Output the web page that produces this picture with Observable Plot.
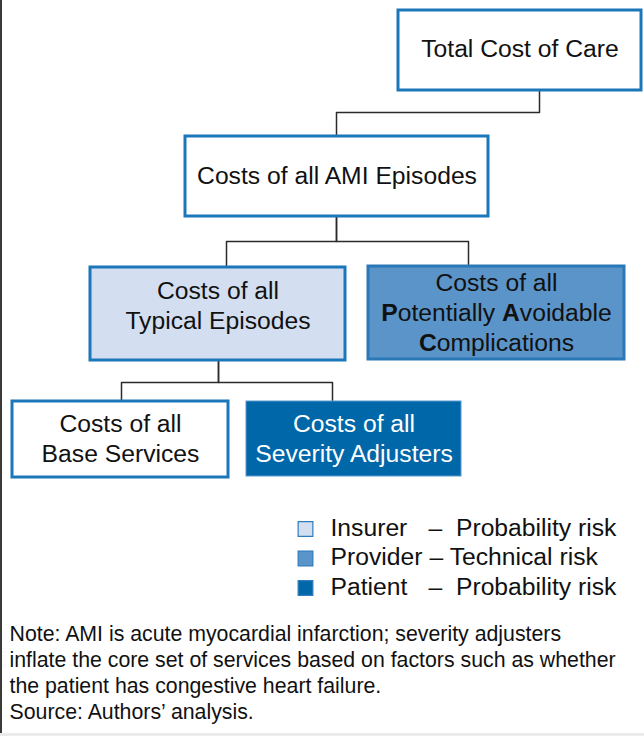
<!DOCTYPE html>
<html><head><meta charset="utf-8">
<script src="https://cdn.jsdelivr.net/npm/d3@7"></script>
<script src="https://cdn.jsdelivr.net/npm/@observablehq/plot@0.6"></script>
<style>
html,body{margin:0;padding:0;background:#ebebeb;}
#wrap{position:relative;width:644px;height:733px;background:#fff;overflow:hidden;}
#wrap::before{content:"";position:absolute;left:0;top:0;width:1.5px;height:733px;background:#3a3a3a;z-index:2;}
#wrap svg text{white-space:pre;}
</style></head><body><div id="wrap"></div>
<script>
// ---- data ----
const nodeIds = ["total", "ami", "typical", "pac", "base", "severity"];
const nodeLabels = [
  "Total Cost of Care",
  "Costs of all AMI Episodes",
  "Costs of all\nTypical Episodes",
  "Costs of all\n**P**otentially **A**voidable\n**C**omplications",
  "Costs of all\nBase Services",
  "Costs of all\nSeverity Adjusters"
];
const nodeParents = [null, "total", "ami", "ami", "typical", "typical"];
const nodeRoles = [null, null, "Insurer", "Provider", null, "Patient"];
const roles = ["Insurer", "Provider", "Patient"];
const roleRisks = ["Probability risk", "Technical risk", "Probability risk"];
const roleColors = ["#d3dff0", "#5b94c8", "#0067a9"];
const noteLines = [
  "Note: AMI is acute myocardial infarction; severity adjusters",
  "inflate the core set of services based on factors such as whether",
  "the patient has congestive heart failure.",
  "Source: Authors\u2019 analysis."
];

// ---- layout (diagram geometry, in chart units) ----
const boxLayout = {
  total:    {x1: 398, x2: 641, y1: 10,  y2: 90,  ty: 47,  inX: null, outX: 539},
  ami:      {x1: 185, x2: 488, y1: 136, y2: 216, ty: 174, inX: 336, outX: 336},
  typical:  {x1: 90,  x2: 345, y1: 267, y2: 360, ty: 304, inX: 226, outX: 218},
  pac:      {x1: 368, x2: 624, y1: 266, y2: 359, ty: 311, inX: 468, outX: null},
  base:     {x1: 12,  x2: 228, y1: 401, y2: 477, ty: 437, inX: 121, outX: null},
  severity: {x1: 246, x2: 461, y1: 401, y2: 476, ty: 437, inX: 332, outX: null}
};
const elbowY = {total: 112, ami: 241, typical: 382};
const legendLayout = {squareX: 305, roleX: 330, dashX: [428, 429, 428], gap: ["  ", " ", "  "], top: 528.5, step: 29.5};
const noteLayout = {x: 9, top: 634, step: 26};

const FONT = '"Liberation Sans", Arial, Helvetica, sans-serif';
const BORDER = "#1b77ba";
const INK = "#111";
const BOX_FONT = 24.7;

const boxes = nodeIds.map((id, i) => ({
  id, label: nodeLabels[i], parent: nodeParents[i], role: nodeRoles[i], ...boxLayout[id]
}));
const byId = new Map(boxes.map(b => [b.id, b]));
const links = [];
boxes.filter(b => b.parent).forEach(b => {
  const p = byId.get(b.parent);
  const ey = elbowY[p.id];
  [[p.outX, p.y2], [p.outX, ey], [b.inX, ey], [b.inX, b.y1]]
    .forEach(([x, y]) => links.push({child: b.id, x, y}));
});
const legend = roles.map((r, i) => ({
  role: r, risk: "\u2013" + legendLayout.gap[i] + roleRisks[i],
  y: legendLayout.top + i * legendLayout.step, dx: legendLayout.dashX[i]
}));
const notes = noteLines.map((t, i) => ({text: t, y: noteLayout.top + i * noteLayout.step}));
const cx = b => (b.x1 + b.x2) / 2;

const chart = Plot.plot({
  width: 644, height: 733, margin: 0,
  x: {domain: [0, 644], range: [0, 644], axis: null},
  y: {domain: [0, 733], range: [0, 733], axis: null},
  color: {domain: roles, range: roleColors},
  style: {fontFamily: FONT, background: "transparent", color: INK, overflow: "visible"},
  marks: [
    Plot.line(links, {x: "x", y: "y", z: "child", stroke: "#2b2b2b", strokeWidth: 1.5}),
    Plot.rect(boxes.filter(b => !b.role), {x1: "x1", x2: "x2", y1: "y1", y2: "y2", fill: "white", stroke: BORDER, strokeWidth: 3}),
    Plot.rect(boxes.filter(b => b.role), {x1: "x1", x2: "x2", y1: "y1", y2: "y2", fill: "role"}),
    Plot.rect(boxes.filter(b => b.role === "Insurer"), {x1: "x1", x2: "x2", y1: "y1", y2: "y2", fill: "none", stroke: BORDER, strokeWidth: 3}),
    Plot.rect(boxes.filter(b => b.role === "Provider"), {x1: "x1", x2: "x2", y1: "y1", y2: "y2", fill: "none", stroke: "#2a78b8", strokeWidth: 3}),
    Plot.rect(boxes.filter(b => b.role === "Patient"), {x1: "x1", x2: "x2", y1: "y1", y2: "y2", fill: "none", stroke: "#5a9ad0", strokeWidth: 1}),
    Plot.text(boxes.filter(b => b.role !== "Patient"), {x: cx, y: "ty", text: "label", fontSize: BOX_FONT, lineHeight: 1.22, fill: INK}),
    Plot.text(boxes.filter(b => b.role === "Patient"), {x: cx, y: "ty", text: "label", fontSize: BOX_FONT, lineHeight: 1.22, fill: "white"}),
    Plot.dot(legend, {x: legendLayout.squareX, y: "y", symbol: "square", r: 8.3, fill: "role", stroke: "#2e7cbd", strokeWidth: 1.2}),
    Plot.text(legend, {x: legendLayout.roleX, y: d => d.y - 1, text: "role", textAnchor: "start", fontSize: BOX_FONT, fill: INK}),
    Plot.text(legend, {x: "dx", y: d => d.y - 1, text: "risk", textAnchor: "start", fontSize: BOX_FONT, fill: INK}),
    Plot.text(notes, {x: noteLayout.x, y: "y", text: "text", textAnchor: "start", fontSize: 21.3, fill: INK})
  ]
});

// bold markers **x** -> bold tspans
chart.querySelectorAll("text, tspan").forEach(el => {
  Array.from(el.childNodes).forEach(node => {
    if (node.nodeType !== 3 || !node.nodeValue.includes("**")) return;
    const parts = node.nodeValue.split("**");
    const frag = document.createDocumentFragment();
    parts.forEach((p, i) => {
      if (!p) return;
      if (i % 2 === 1) {
        const t = document.createElementNS("http://www.w3.org/2000/svg", "tspan");
        t.setAttribute("font-weight", "bold");
        t.textContent = p;
        frag.appendChild(t);
      } else frag.appendChild(document.createTextNode(p));
    });
    el.replaceChild(frag, node);
  });
});

document.getElementById("wrap").appendChild(chart);
</script></body></html>
